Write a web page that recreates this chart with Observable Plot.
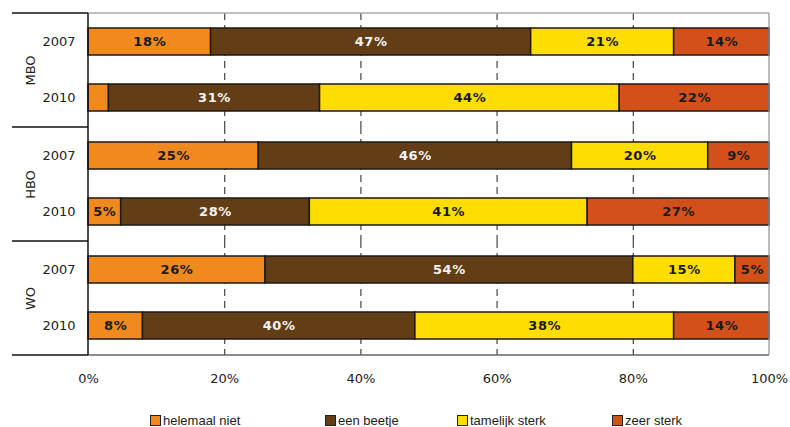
<!DOCTYPE html>
<html>
<head>
<meta charset="utf-8">
<script src="https://cdn.jsdelivr.net/npm/d3@7"></script>
<script src="https://cdn.jsdelivr.net/npm/@observablehq/plot@0.6"></script>
<style>
  html, body { margin: 0; padding: 0; background: #fff; }
  #wrap { width: 790px; }
  #legend { display: flex; padding-left: 150px; margin-top: 18px; height: 14px;
            font-family: "Liberation Sans", Arial, sans-serif; font-size: 13px; color: #222; }
  .item { display: flex; align-items: center; white-space: nowrap; }
  .sw { width: 9px; height: 9px; border: 1.5px solid #222; margin-right: 2px; }
</style>
</head>
<body>
<div id="wrap"></div>
<script>
const groups = ["MBO", "HBO", "WO"];
const years = ["2007", "2010"];
const categories = ["helemaal niet", "een beetje", "tamelijk sterk", "zeer sterk"];
const colors = ["#F08A1E", "#633D15", "#FFDD00", "#D4501A"];
const xTicks = [0, 20, 40, 60, 80, 100];
const gridTicks = [20, 40, 60, 80];

const MBO_2007 = [18, 47, 21, 14];
const MBO_2010 = [3, 31, 44, 22];
const HBO_2007 = [25, 46, 20, 9];
const HBO_2010 = [4.8, 27.7, 40.8, 26.7];
const WO_2007 = [26, 54, 15, 5];
const WO_2010 = [8, 40, 38, 14];

const series = {
  MBO: {"2007": MBO_2007, "2010": MBO_2010},
  HBO: {"2007": HBO_2007, "2010": HBO_2010},
  WO: {"2007": WO_2007, "2010": WO_2010}
};

const rows = [];
for (const g of groups) for (const y of years)
  series[g][y].forEach((v, i) => rows.push({group: g, year: y, cat: categories[i], value: v}));

const stackOpts = {x: "value", y: "year", fy: "group", order: null};
const label = (dark) => d => (d.value >= 4.5 && ((d.cat === categories[1]) !== dark)) ? Math.round(d.value) + "%" : "";

const chart = Plot.plot({
  width: 790,
  height: 395,
  marginTop: 12,
  marginBottom: 39,
  marginLeft: 88,
  marginRight: 21,
  style: {fontFamily: "DejaVu Sans, Verdana, sans-serif", fontSize: "13px", color: "#222", background: "#fff", overflow: "visible"},
  x: {domain: [0, 100], ticks: xTicks, tickFormat: d => d + "%", tickSize: 0, tickPadding: 18, label: null},
  y: {domain: years, paddingInner: 0.513, paddingOuter: 0.257, tickSize: 0, tickPadding: 13, label: null},
  fy: {domain: groups, padding: 0, axis: null, label: null},
  color: {domain: categories, range: colors},
  marks: [
    Plot.ruleX(gridTicks, {stroke: "#444", strokeWidth: 1.2, strokeDasharray: "7,5"}),
    Plot.barX(rows, Plot.stackX({...stackOpts, fill: "cat", stroke: "#1a1a1a", strokeWidth: 1.5})),
    Plot.text(rows, Plot.stackX({...stackOpts, text: label(true), fill: "#1a1a1a", fontWeight: "bold", fontSize: 13})),
    Plot.text(rows, Plot.stackX({...stackOpts, text: label(false), fill: "#f4f4f4", fontWeight: "bold", fontSize: 13})),
    Plot.text(groups, {fy: d => d, text: d => d, frameAnchor: "left", textAnchor: "middle", dx: -58, rotate: -90, fill: "#222", fontSize: 13})
  ]
});

d3.select(chart).selectAll("text[font-weight=bold], g[font-weight=bold] text").style("letter-spacing", "0.6px");

// frame lines derived from the plot's scales
const fyScale = chart.scale("fy");
const xScale = chart.scale("x");
const xLeft = xScale.apply(0), xRight = xScale.apply(100);
const outerLeft = 12;
const yTop = fyScale.apply(groups[0]);
const yBottom = fyScale.apply(groups[groups.length - 1]) + fyScale.bandwidth;
const svg = d3.select(chart);
const gl = svg.append("g").attr("fill", "none");
const line = (xa, ya, xb, yb, c, w) => gl.append("line")
  .attr("x1", xa).attr("y1", ya).attr("x2", xb).attr("y2", yb)
  .attr("stroke", c).attr("stroke-width", w);
groups.forEach(g => { const t = fyScale.apply(g); line(outerLeft, t, xLeft, t, "#111", 1.3); });
line(outerLeft, yBottom, xLeft, yBottom, "#111", 1.3);
line(xLeft, yTop, xRight, yTop, "#aaa", 1.3);
line(xLeft, yBottom, xRight, yBottom, "#666", 1.3);
line(xRight, yTop, xRight, yBottom, "#999", 1.3);
line(xLeft, yTop, xLeft, yBottom, "#111", 1.5);

const wrap = document.getElementById("wrap");
wrap.appendChild(chart);

const legend = document.createElement("div");
legend.id = "legend";
const widths = [175, 132, 155, 120];
categories.forEach((c, i) => {
  const it = document.createElement("div");
  it.className = "item";
  it.style.width = widths[i] + "px";
  const sw = document.createElement("span");
  sw.className = "sw";
  sw.style.background = colors[i];
  const tx = document.createElement("span");
  tx.textContent = c;
  it.appendChild(sw); it.appendChild(tx);
  legend.appendChild(it);
});
wrap.appendChild(legend);
</script>
</body>
</html>
